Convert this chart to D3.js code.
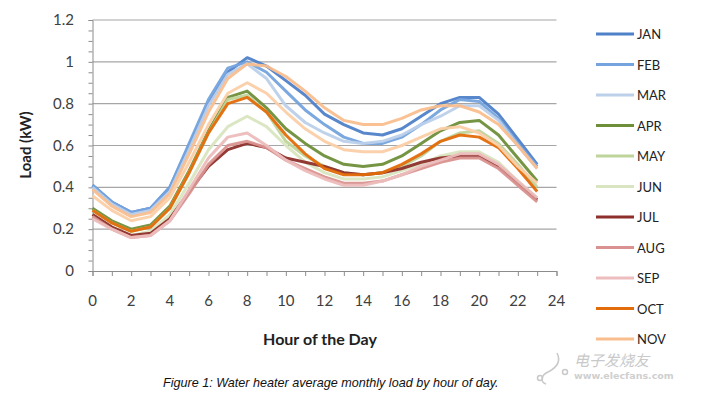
<!DOCTYPE html>
<html>
<head>
<meta charset="utf-8">
<script src="https://cdn.jsdelivr.net/npm/d3@7"></script>
<style>
  body { margin: 0; background: #fff; }
  svg text { font-family: Lato, "Open Sans", sans-serif; }
</style>
</head>
<body>
<div id="chart"></div>
<script>
// hours of the day and monthly average load (kW)
const hours = d3.range(0, 24);
const months = ['JAN', 'FEB', 'MAR', 'APR', 'MAY', 'JUN', 'JUL', 'AUG', 'SEP', 'OCT', 'NOV', 'DEC'];
const legendMonths = months.slice(0, 11); // legend is cut off after NOV in the original

const JAN = [0.41, 0.33, 0.28, 0.30, 0.40, 0.60, 0.80, 0.95, 1.02, 0.98, 0.91, 0.84, 0.75, 0.70, 0.66, 0.65, 0.68, 0.74, 0.80, 0.83, 0.83, 0.75, 0.63, 0.51];
const FEB = [0.41, 0.33, 0.28, 0.30, 0.40, 0.61, 0.82, 0.97, 1.00, 0.95, 0.86, 0.77, 0.70, 0.64, 0.61, 0.61, 0.64, 0.70, 0.77, 0.82, 0.81, 0.73, 0.61, 0.50];
const MAR = [0.40, 0.32, 0.27, 0.29, 0.38, 0.58, 0.79, 0.94, 0.99, 0.92, 0.79, 0.71, 0.66, 0.62, 0.61, 0.62, 0.65, 0.70, 0.74, 0.79, 0.79, 0.72, 0.60, 0.49];
const APR = [0.30, 0.24, 0.20, 0.22, 0.31, 0.48, 0.67, 0.83, 0.86, 0.78, 0.68, 0.61, 0.55, 0.51, 0.50, 0.51, 0.55, 0.61, 0.67, 0.71, 0.72, 0.65, 0.54, 0.43];
const MAY = [0.29, 0.23, 0.19, 0.21, 0.30, 0.47, 0.66, 0.82, 0.84, 0.76, 0.62, 0.55, 0.50, 0.47, 0.46, 0.47, 0.50, 0.55, 0.62, 0.66, 0.67, 0.61, 0.51, 0.40];
const JUN = [0.27, 0.21, 0.17, 0.19, 0.27, 0.42, 0.58, 0.69, 0.74, 0.69, 0.60, 0.52, 0.47, 0.44, 0.44, 0.45, 0.48, 0.51, 0.55, 0.57, 0.57, 0.52, 0.43, 0.35];
const JUL = [0.27, 0.21, 0.17, 0.18, 0.25, 0.38, 0.50, 0.58, 0.61, 0.59, 0.54, 0.52, 0.50, 0.47, 0.46, 0.47, 0.49, 0.52, 0.54, 0.55, 0.55, 0.50, 0.42, 0.34];
const AUG = [0.26, 0.20, 0.16, 0.17, 0.24, 0.37, 0.51, 0.60, 0.62, 0.59, 0.53, 0.49, 0.45, 0.42, 0.42, 0.43, 0.46, 0.49, 0.52, 0.54, 0.54, 0.49, 0.41, 0.33];
const SEP = [0.25, 0.20, 0.16, 0.17, 0.24, 0.39, 0.54, 0.64, 0.66, 0.60, 0.53, 0.48, 0.44, 0.41, 0.41, 0.43, 0.46, 0.50, 0.53, 0.56, 0.56, 0.51, 0.43, 0.35];
const OCT = [0.29, 0.23, 0.19, 0.21, 0.30, 0.47, 0.66, 0.80, 0.83, 0.76, 0.65, 0.56, 0.49, 0.46, 0.46, 0.47, 0.51, 0.56, 0.62, 0.65, 0.64, 0.59, 0.49, 0.38];
const NOV = [0.39, 0.31, 0.26, 0.28, 0.37, 0.56, 0.76, 0.92, 0.99, 0.98, 0.93, 0.86, 0.78, 0.72, 0.70, 0.70, 0.73, 0.77, 0.79, 0.79, 0.76, 0.70, 0.60, 0.49];
const DEC = [0.36, 0.29, 0.24, 0.26, 0.35, 0.52, 0.70, 0.85, 0.90, 0.85, 0.76, 0.68, 0.62, 0.58, 0.57, 0.57, 0.60, 0.64, 0.68, 0.69, 0.66, 0.60, 0.50, 0.42];

const series = [JAN, FEB, MAR, APR, MAY, JUN, JUL, AUG, SEP, OCT, NOV, DEC];
const colors = ['#4f81c9', '#75a3de', '#bcd0ea', '#6e8f3a', '#bfd49a', '#d9e5c0',
  '#8e2f2c', '#d9928f', '#ecbdbc', '#e36c0a', '#f9be8e', '#fbcfa8'];

const xTicks = d3.range(0, 25, 2);
const yTicks = [0, 0.2, 0.4, 0.6, 0.8, 1, 1.2];

const width = 701;
const height = 399;

const svg = d3.select('#chart')
  .append('svg')
  .attr('width', width)
  .attr('height', height);

const x = d3.scaleLinear().domain([0, 24]).range([92.5, 556.5]);
const y = d3.scaleLinear().domain([0, 1.2]).range([271, 20]);

// horizontal gridlines
svg.append('g')
  .selectAll('line')
  .data(yTicks.slice(1))
  .enter()
  .append('line')
  .attr('x1', x(0))
  .attr('x2', x(24))
  .attr('y1', d => y(d))
  .attr('y2', d => y(d))
  .attr('stroke', '#a6a6a6')
  .attr('stroke-width', 1.2);

// y axis with minor ticks every 0.05
const yAxis = svg.append('g')
  .attr('transform', `translate(${x(0)},0)`)
  .call(d3.axisLeft(y).tickValues(d3.range(0, 1.2001, 0.05)).tickSize(4).tickFormat(''));
yAxis.select('.domain').attr('stroke', '#8c8c8c');
yAxis.selectAll('line').attr('stroke', '#8c8c8c');

svg.append('g')
  .selectAll('text')
  .data(yTicks)
  .enter()
  .append('text')
  .attr('x', 74)
  .attr('y', d => y(d) + 5)
  .attr('text-anchor', 'end')
  .attr('font-size', 15)
  .attr('fill', '#404040')
  .text(d => d);

// x axis, ticks every hour
const xAxis = svg.append('g')
  .attr('transform', `translate(0,${y(0)})`)
  .call(d3.axisBottom(x).tickValues(d3.range(0, 25)).tickSize(5).tickFormat(''));
xAxis.select('.domain').attr('stroke', '#8c8c8c');
xAxis.selectAll('line').attr('stroke', '#8c8c8c');

svg.append('g')
  .selectAll('text')
  .data(xTicks)
  .enter()
  .append('text')
  .attr('x', d => x(d))
  .attr('y', 306)
  .attr('text-anchor', 'middle')
  .attr('font-size', 15)
  .attr('fill', '#404040')
  .text(d => d);

// lines
const line = d3.line()
  .x((d, i) => x(hours[i]))
  .y(d => y(d));

svg.append('g')
  .selectAll('path')
  .data(series)
  .enter()
  .append('path')
  .attr('d', line)
  .attr('fill', 'none')
  .attr('stroke', (d, i) => colors[i])
  .attr('stroke-width', 3)
  .attr('stroke-linejoin', 'round')
  .attr('opacity', 0.95);

// axis titles
svg.append('text')
  .attr('transform', 'translate(31,145) rotate(-90)')
  .attr('text-anchor', 'middle')
  .attr('font-size', 15)
  .attr('font-weight', 'bold')
  .attr('fill', '#222')
  .text('Load (kW)');

svg.append('text')
  .attr('x', 320)
  .attr('y', 345)
  .attr('text-anchor', 'middle')
  .attr('font-size', 16)
  .attr('font-weight', 'bold')
  .attr('fill', '#222')
  .text('Hour of the Day');

// legend
const legend = svg.append('g')
  .selectAll('g')
  .data(legendMonths)
  .enter()
  .append('g')
  .attr('transform', (d, i) => `translate(596,${34 + i * 30.5})`);

legend.append('line')
  .attr('x1', 0)
  .attr('x2', 38)
  .attr('stroke', (d, i) => colors[i])
  .attr('stroke-width', 3);

legend.append('text')
  .attr('x', 41)
  .attr('y', 5)
  .attr('font-size', 13)
  .attr('fill', '#222')
  .text(d => d);

// caption
svg.append('text')
  .attr('x', 163)
  .attr('y', 387)
  .style('font-family', '"Liberation Sans", Arial, sans-serif')
  .attr('font-style', 'italic')
  .attr('font-size', 12.6)
  .attr('fill', '#111')
  .text('Figure 1: Water heater average monthly load by hour of day.');

// watermark
const wm = svg.append('g').attr('fill', 'none').attr('stroke', '#c9c9c9').attr('stroke-width', 1.5);
wm.append('path').attr('d', 'M557,353 C562,363 554,369 548,372 C541,375 540,382 546,384');
wm.append('circle').attr('cx', 540).attr('cy', 378).attr('r', 2.5);
wm.append('circle').attr('cx', 565).attr('cy', 372).attr('r', 2.5);
svg.append('text')
  .attr('x', 574)
  .attr('y', 366)
  .style('font-family', '"Noto Sans CJK SC", sans-serif')
  .attr('font-size', 15)
  .attr('font-style', 'italic')
  .attr('fill', '#c9c9c9')
  .text('电子发烧友');
svg.append('text')
  .attr('x', 574)
  .attr('y', 379)
  .style('font-family', '"DejaVu Sans", sans-serif')
  .attr('font-size', 9.5)
  .attr('font-weight', 'bold')
  .attr('fill', '#cfcfcf')
  .text('www.elecfans.com');
</script>
</body>
</html>
